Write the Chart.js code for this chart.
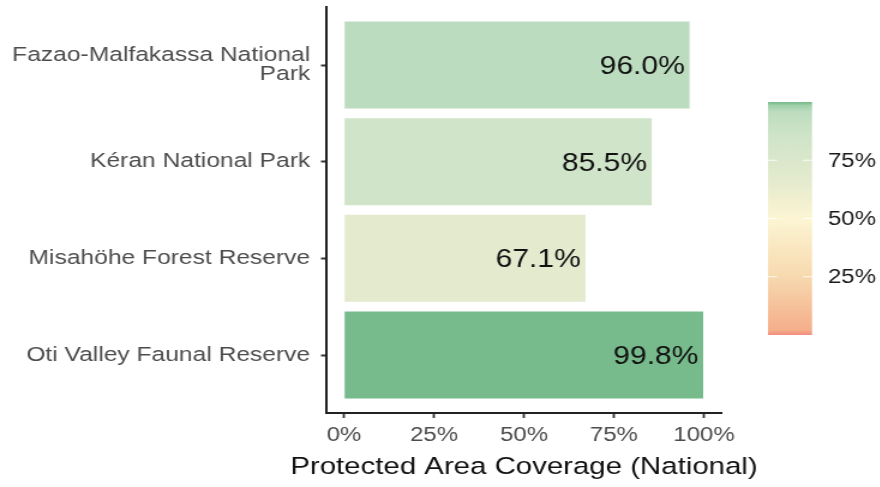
<!DOCTYPE html>
<html>
<head>
<meta charset="utf-8">
<script src="https://cdn.jsdelivr.net/npm/chart.js@4"></script>
<style>
  html, body { margin: 0; padding: 0; background: #ffffff; overflow: hidden; }
  /* the reference is horizontally stretched; draw at 1/1.2 width and stretch */
  #wrap { width: 733.33px; height: 487px; position: relative; transform: scaleX(1.2); transform-origin: 0 0; }
</style>
</head>
<body>
<div id="wrap"><canvas id="c"></canvas></div>
<script>
// ---- data ----
const categories = [
  "Fazao-Malfakassa National Park",
  "Kéran National Park",
  "Misahöhe Forest Reserve",
  "Oti Valley Faunal Reserve"
];
const coverage = [96.0, 85.5, 67.1, 99.8];
const xTicks = [0, 25, 50, 75, 100];
const legendTicks = [25, 50, 75];
const xTitle = "Protected Area Coverage (National)";

// ---- colour scale (value 0..100) ----
const gradStops = [
  [0.000, [242, 139, 126]],
  [0.020, [244, 174, 138]],
  [0.250, [247, 217, 175]],
  [0.500, [252, 245, 211]],
  [0.671, [227, 234, 205]],
  [0.855, [207, 228, 200]],
  [0.960, [188, 220, 191]],
  [0.985, [160, 208, 170]],
  [0.998, [119, 187, 140]],
  [1.000, [119, 187, 140]]
];
function colorFor(v) {
  const t = Math.max(0, Math.min(1, v / 100));
  for (let i = 1; i < gradStops.length; i++) {
    if (t <= gradStops[i][0]) {
      const [t0, c0] = gradStops[i - 1];
      const [t1, c1] = gradStops[i];
      const f = t1 === t0 ? 0 : (t - t0) / (t1 - t0);
      const c = c0.map((a, k) => Math.round(a + (c1[k] - a) * f));
      return `rgb(${c[0]},${c[1]},${c[2]})`;
    }
  }
  const c = gradStops[gradStops.length - 1][1];
  return `rgb(${c[0]},${c[1]},${c[2]})`;
}

function wrapLabel(s, width) {
  const words = s.split(" ");
  const lines = [];
  let cur = "";
  for (const w of words) {
    if (cur.length === 0) cur = w;
    else if ((cur + " " + w).length <= width) cur += " " + w;
    else { lines.push(cur); cur = w; }
  }
  if (cur) lines.push(cur);
  return lines.length === 1 ? lines[0] : lines;
}

const FONT = "'Liberation Sans', Arial, Helvetica, sans-serif";

// ---- plugins ----
const valueLabels = {
  id: 'valueLabels',
  afterDatasetsDraw(chart) {
    const ctx = chart.ctx;
    const meta = chart.getDatasetMeta(0);
    ctx.save();
    ctx.font = `25px ${FONT}`;
    ctx.fillStyle = '#111111';
    ctx.textAlign = 'right';
    ctx.textBaseline = 'middle';
    meta.data.forEach((bar, i) => {
      ctx.fillText(coverage[i].toFixed(1) + '%', bar.x - 4, bar.y + 2);
    });
    ctx.restore();
  }
};

const axisTitle = {
  id: 'axisTitle',
  afterDraw(chart) {
    const ctx = chart.ctx;
    const a = chart.chartArea;
    ctx.save();
    ctx.font = `24.5px ${FONT}`;
    ctx.fillStyle = '#111111';
    ctx.textAlign = 'center';
    ctx.textBaseline = 'middle';
    ctx.fillText(xTitle, (a.left + a.right) / 2, 467);
    ctx.restore();
  }
};

const colorBar = {
  id: 'colorBar',
  afterDraw(chart) {
    const ctx = chart.ctx;
    const x0 = 640, x1 = 676.7, yTop = 102, yBot = 335;
    ctx.save();
    const g = ctx.createLinearGradient(0, yBot, 0, yTop);
    for (let v = 0; v <= 100; v += 0.5) g.addColorStop(v / 100, colorFor(v));
    ctx.fillStyle = g;
    ctx.fillRect(x0, yTop, x1 - x0, yBot - yTop);
    ctx.strokeStyle = 'rgba(255,255,255,0.85)';
    ctx.lineWidth = 1;
    ctx.font = `20px ${FONT}`;
    ctx.fillStyle = '#1a1a1a';
    ctx.textAlign = 'left';
    ctx.textBaseline = 'middle';
    legendTicks.forEach(v => {
      const y = yBot - (v / 100) * (yBot - yTop);
      ctx.beginPath();
      ctx.moveTo(x0, y); ctx.lineTo(x0 + 7.5, y);
      ctx.moveTo(x1 - 7.5, y); ctx.lineTo(x1, y);
      ctx.stroke();
      ctx.fillText(v + '%', 690, y + 1);
    });
    ctx.restore();
  }
};

// ---- chart ----
const points = coverage.map((v, i) => ({ x: v, y: i }));

new Chart(document.getElementById('c'), {
  type: 'bar',
  data: {
    datasets: [{
      data: points,
      backgroundColor: coverage.map(colorFor),
      borderWidth: 0,
      categoryPercentage: 0.9,
      barPercentage: 1.0
    }]
  },
  options: {
    indexAxis: 'y',
    responsive: true,
    maintainAspectRatio: false,
    animation: false,
    devicePixelRatio: 1,
    layout: { padding: { top: 7, right: 131.7, left: 0, bottom: 0 } },
    plugins: { legend: { display: false }, tooltip: { enabled: false } },
    scales: {
      x: {
        type: 'linear',
        min: -5, max: 105,
        offset: false,
        afterFit(s) { s.height = 74; s.paddingLeft = 0; s.paddingRight = 0; },
        border: { display: true, color: '#222222', width: 2 },
        grid: { offset: false, drawOnChartArea: false, drawTicks: true, tickLength: 5, tickWidth: 1.8, tickColor: '#333333' },
        ticks: {
          stepSize: 25, includeBounds: false, padding: 5,
          color: '#4d4d4d', font: { family: FONT, size: 20 },
          callback: v => xTicks.includes(v) ? v + '%' : ''
        },
        title: { display: false }
      },
      y: {
        type: 'linear',
        reverse: true,
        offset: false,
        min: -0.6, max: 3.6,
        afterFit(s) { s.width = 271.7; s.paddingTop = 0; s.paddingBottom = 0; },
        border: { display: true, color: '#222222', width: 2 },
        grid: { offset: false, drawOnChartArea: false, drawTicks: true, tickLength: 4.2, tickWidth: 2, tickColor: '#333333' },
        ticks: {
          stepSize: 1, includeBounds: false, padding: 9,
          color: '#4d4d4d', font: { family: FONT, size: 20.5, lineHeight: 0.9 },
          callback: v => Number.isInteger(v) && categories[v] ? wrapLabel(categories[v], 25) : ''
        }
      }
    }
  },
  plugins: [valueLabels, axisTitle, colorBar]
});
</script>
</body>
</html>
